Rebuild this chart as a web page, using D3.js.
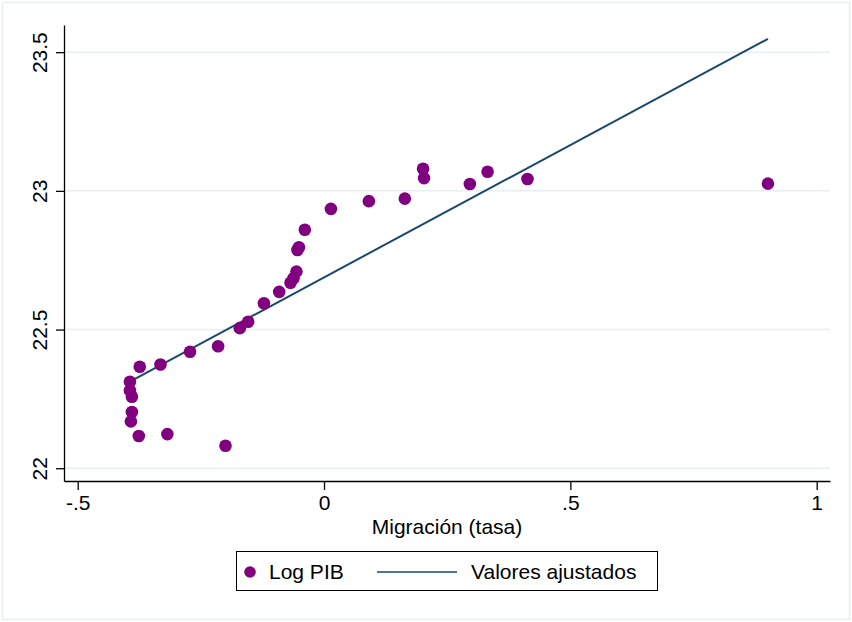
<!DOCTYPE html>
<html>
<head>
<meta charset="utf-8">
<script src="https://d3js.org/d3.v7.min.js"></script>
<style>
  body { margin: 0; background: #fff; }
  text { font-family: "Liberation Sans", Arial, sans-serif; fill: #000; }
</style>
</head>
<body>
<div id="chart"></div>
<script>
// Migración (tasa) vs Log PIB
var migracion = [-0.394, -0.394, -0.390, -0.390, -0.392, -0.376, -0.374, -0.318, -0.332, -0.272,
                 -0.215, -0.200, -0.171, -0.154, -0.122, -0.091, -0.068, -0.062, -0.056, -0.054,
                 -0.051, -0.039, 0.014, 0.091, 0.164, 0.201, 0.203, 0.296, 0.332, 0.413, 0.901];
var logPib = [22.312, 22.280, 22.258, 22.203, 22.169, 22.116, 22.366, 22.123, 22.374, 22.420,
              22.440, 22.081, 22.505, 22.528, 22.595, 22.636, 22.669, 22.685, 22.709, 22.787,
              22.797, 22.860, 22.935, 22.963, 22.972, 23.080, 23.046, 23.025, 23.069, 23.043, 23.026];

// fitted values at the extremes of x
var ajusteX = [-0.394, 0.901];
var ajusteY = [22.312, 23.548];

var xTicks = [-0.5, 0, 0.5, 1];
var xTickLabels = ["-.5", "0", ".5", "1"];
var yTicks = [22, 22.5, 23, 23.5];
var yTickLabels = ["22", "22.5", "23", "23.5"];

var svgWidth = 852;
var svgHeight = 622;

var margin = {top: 25, right: 22, bottom: 141, left: 64};
var width = svgWidth - margin.left - margin.right;
var height = svgHeight - margin.top - margin.bottom;

var svg = d3.select("#chart")
            .append("svg")
            .attr("width", svgWidth)
            .attr("height", svgHeight);

// outer frame
svg.append("rect")
   .attr("x", 2.5).attr("y", 2.5)
   .attr("width", 847).attr("height", 617)
   .attr("fill", "none")
   .attr("stroke", "#e6eef1")
   .attr("stroke-width", 1.5);

var chartGroup = svg.append("g").attr("transform", `translate(${margin.left}, ${margin.top})`);

var xScale = d3.scaleLinear().domain([-0.5278, 1.027]).range([0, width]);
var yScale = d3.scaleLinear().domain([21.954, 23.598]).range([height, 0]);

// gridlines
chartGroup.selectAll(".grid")
    .data(yTicks)
    .enter()
    .append("line")
    .attr("x1", 0).attr("x2", width)
    .attr("y1", d => yScale(d)).attr("y2", d => yScale(d))
    .attr("stroke", "#e8eff1")
    .attr("stroke-width", 1.5);

// axes
var bottomAxis = d3.axisBottom(xScale)
    .tickValues(xTicks)
    .tickFormat((d, i) => xTickLabels[i])
    .tickSizeInner(9).tickSizeOuter(0).tickPadding(5);

var leftAxis = d3.axisLeft(yScale)
    .tickValues(yTicks)
    .tickFormat((d, i) => yTickLabels[i])
    .tickSizeInner(8).tickSizeOuter(0).tickPadding(6);

var xAxisG = chartGroup.append("g")
    .attr("transform", `translate(0, ${height})`)
    .call(bottomAxis);
xAxisG.selectAll("text")
    .style("font-size", "21px")
    .style("font-family", "Liberation Sans, Arial, sans-serif");

var yAxisG = chartGroup.append("g").call(leftAxis);
yAxisG.selectAll("text")
    .style("font-size", "21px")
    .style("font-family", "Liberation Sans, Arial, sans-serif")
    .attr("transform", "rotate(-90)")
    .attr("x", 0)
    .attr("y", -17)
    .attr("dy", 0)
    .style("text-anchor", "middle");

chartGroup.selectAll(".domain, .tick line")
    .attr("stroke", "#000")
    .attr("stroke-width", 1.3);

// fitted line
var lineData = ajusteX.map((x, i) => [x, ajusteY[i]]);
chartGroup.append("path")
    .datum(lineData)
    .attr("fill", "none")
    .attr("stroke", "#1a476f")
    .attr("stroke-width", 2)
    .attr("d", d3.line().x(d => xScale(d[0])).y(d => yScale(d[1])));

// points
chartGroup.selectAll("circle")
    .data(migracion)
    .enter()
    .append("circle")
    .attr("cx", d => xScale(d))
    .attr("cy", (d, i) => yScale(logPib[i]))
    .attr("r", 6.3)
    .attr("fill", "#800080");

// axis title
svg.append("text")
    .attr("x", 447)
    .attr("y", 534)
    .style("text-anchor", "middle")
    .style("font-size", "21px")
    .text("Migración (tasa)");

// legend
var legend = svg.append("g");
legend.append("rect")
    .attr("x", 236.5).attr("y", 551.5)
    .attr("width", 421).attr("height", 39)
    .attr("fill", "#fff")
    .attr("stroke", "#000")
    .attr("stroke-width", 1);
legend.append("circle")
    .attr("cx", 250).attr("cy", 572).attr("r", 5.8)
    .attr("fill", "#800080");
legend.append("text")
    .attr("x", 269).attr("y", 579)
    .style("font-size", "21px")
    .text("Log PIB");
legend.append("line")
    .attr("x1", 377).attr("x2", 457)
    .attr("y1", 572).attr("y2", 572)
    .attr("stroke", "#1a476f")
    .attr("stroke-width", 1.5);
legend.append("text")
    .attr("x", 471).attr("y", 579)
    .style("font-size", "21px")
    .text("Valores ajustados");
</script>
</body>
</html>
